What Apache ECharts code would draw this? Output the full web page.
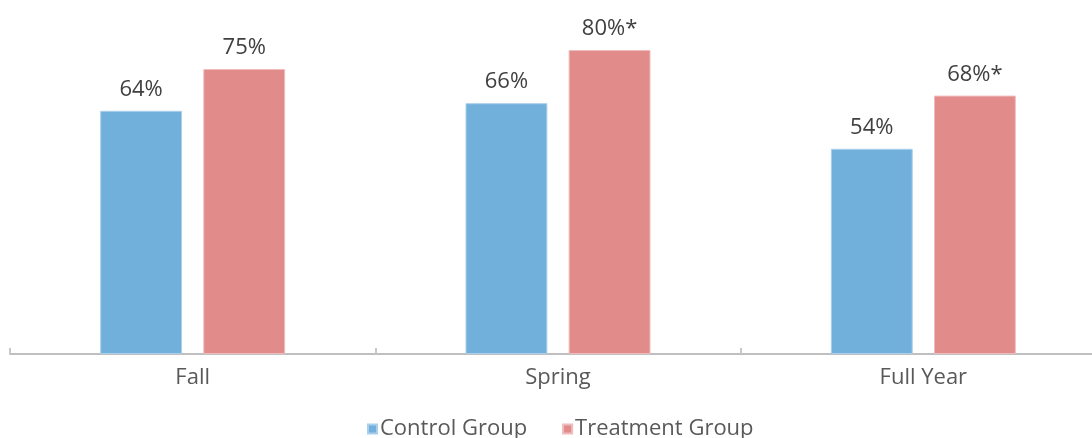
<!DOCTYPE html>
<html>
<head>
<meta charset="utf-8">
<script src="https://cdn.jsdelivr.net/npm/echarts@6/dist/echarts.min.js"></script>
<style>
  html, body { margin: 0; padding: 0; background: #fff; }
  #chart { width: 1092px; height: 438px; }
</style>
</head>
<body>
<div id="chart"></div>
<script>
const categories = ["Fall", "Spring", "Full Year"];
const controlValues = [64, 66, 54];
const treatmentValues = [75, 80, 68];
const controlLabels = ["64%", "66%", "54%"];
const treatmentLabels = ["75%", "80%*", "68%*"];

const chart = echarts.init(document.getElementById("chart"));
const font = "'Open Sans', 'Noto Sans', sans-serif";

const labelStyle = (texts) => ({
  show: true,
  position: "top",
  distance: 10,
  color: "#404040",
  fontSize: 22,
  fontFamily: font,
  formatter: (p) => texts[p.dataIndex],
});

const option = {
  animation: false,
  grid: { left: 10, width: 1096, top: 12, height: 342, outerBoundsMode: "none", containLabel: false },
  legend: {
    top: 413,
    left: 362,
    itemWidth: 9,
    itemHeight: 9,
    itemGap: 35,
    icon: "rect",
    textStyle: { color: "#595959", fontSize: 22, fontFamily: font, padding: [0, 0, 0, -2] },
    data: ["Control Group", "Treatment Group"],
  },
  xAxis: {
    type: "category",
    data: categories,
    axisLine: { lineStyle: { color: "#bfbfbf", width: 2 } },
    axisTick: { show: true, inside: true, length: 6, interval: 0, lineStyle: { color: "#c8c8c8", width: 2 } },
    axisLabel: { color: "#595959", fontSize: 22, fontFamily: font, margin: 13 },
  },
  yAxis: {
    type: "value",
    min: 0,
    max: 90,
    show: false,
  },
  series: [
    {
      name: "Control Group",
      type: "bar",
      barWidth: "22.4%",
      barGap: "26%",
      itemStyle: { color: "#72b0dc", borderColor: "#a9cfec", borderWidth: 1 },
      label: labelStyle(controlLabels),
      data: controlValues,
    },
    {
      name: "Treatment Group",
      type: "bar",
      barWidth: "22.4%",
      itemStyle: { color: "#e18b8a", borderColor: "#efbcbb", borderWidth: 1 },
      label: labelStyle(treatmentLabels),
      data: treatmentValues,
    },
  ],
};
chart.setOption(option);
</script>
</body>
</html>
